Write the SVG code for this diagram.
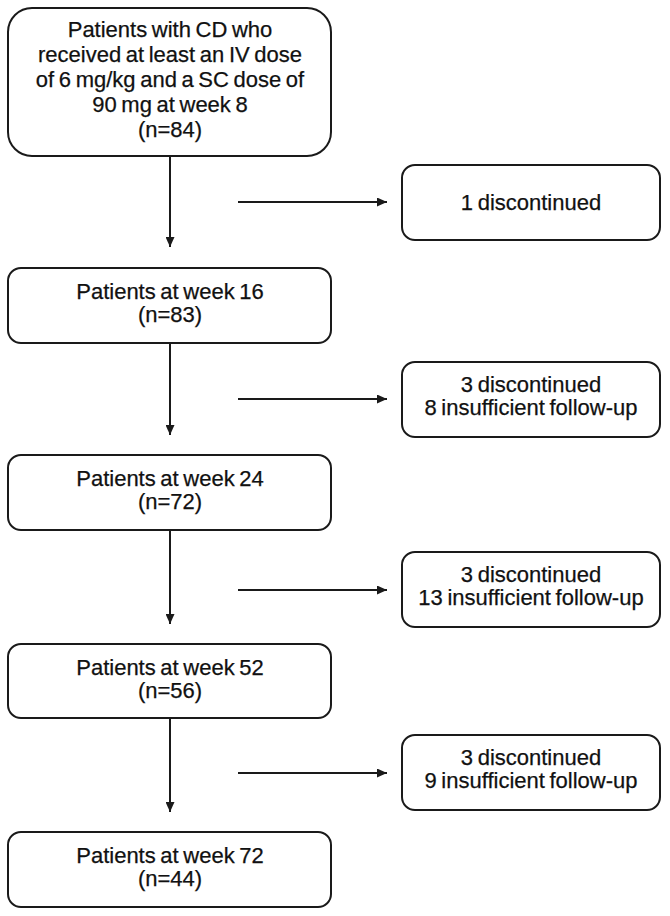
<svg xmlns="http://www.w3.org/2000/svg" width="670" height="916" viewBox="0 0 670 916">
<style>
.box{fill:#fff;stroke:#1a1a1a;stroke-width:2}
.t{font-family:"Liberation Sans",Arial,sans-serif;font-size:22px;word-spacing:-1.5px;fill:#111;stroke:#111;stroke-width:0.25;text-anchor:middle}
.c{stroke:#1a1a1a;stroke-width:2;fill:none;marker-end:url(#ah)}
</style>
<defs>
<marker id="ah" viewBox="0 0 10 10" refX="10" refY="5" markerWidth="5" markerHeight="4.5" orient="auto" markerUnits="strokeWidth" preserveAspectRatio="none">
<path d="M0,0 L10,5 L0,10 z" fill="#1a1a1a"/>
</marker>
</defs>
<rect width="670" height="916" fill="#fff"/>
<g id="connectors">
<line class="c" x1="170" y1="156" x2="170" y2="247"/>
<line class="c" x1="238" y1="202" x2="387" y2="202"/>
<line class="c" x1="170" y1="343" x2="170" y2="435"/>
<line class="c" x1="238" y1="399" x2="387" y2="399"/>
<line class="c" x1="170" y1="530" x2="170" y2="624"/>
<line class="c" x1="238" y1="590" x2="387" y2="590"/>
<line class="c" x1="170" y1="718" x2="170" y2="812"/>
<line class="c" x1="238" y1="773" x2="387" y2="773"/>
</g>
<g id="n1">
<rect class="box" x="8" y="8" width="323" height="148" rx="24"/>
<text class="t" x="170" y="37">Patients with CD who</text>
<text class="t" x="170" y="62">received at least an IV dose</text>
<text class="t" x="170" y="87">of 6 mg/kg and a SC dose of</text>
<text class="t" x="170" y="112">90 mg at week 8</text>
<text class="t" x="170" y="137">(n=84)</text>
</g>
<g id="d1">
<rect class="box" x="402" y="165" width="258" height="75" rx="13"/>
<text class="t" x="531" y="210">1 discontinued</text>
</g>
<g id="n2">
<rect class="box" x="8" y="268" width="323" height="75" rx="13"/>
<text class="t" x="170" y="299">Patients at week 16</text>
<text class="t" x="170" y="322">(n=83)</text>
</g>
<g id="d2">
<rect class="box" x="402" y="362" width="258" height="75" rx="13"/>
<text class="t" x="531" y="392">3 discontinued</text>
<text class="t" x="531" y="415">8 insufficient follow-up</text>
</g>
<g id="n3">
<rect class="box" x="8" y="455" width="323" height="75" rx="13"/>
<text class="t" x="170" y="486">Patients at week 24</text>
<text class="t" x="170" y="509">(n=72)</text>
</g>
<g id="d3">
<rect class="box" x="402" y="552" width="258" height="75" rx="13"/>
<text class="t" x="531" y="582">3 discontinued</text>
<text class="t" x="531" y="605">13 insufficient follow-up</text>
</g>
<g id="n4">
<rect class="box" x="8" y="644" width="323" height="74" rx="13"/>
<text class="t" x="170" y="675">Patients at week 52</text>
<text class="t" x="170" y="698">(n=56)</text>
</g>
<g id="d4">
<rect class="box" x="402" y="735" width="258" height="75" rx="13"/>
<text class="t" x="531" y="765">3 discontinued</text>
<text class="t" x="531" y="788">9 insufficient follow-up</text>
</g>
<g id="n5">
<rect class="box" x="8" y="832" width="323" height="75" rx="13"/>
<text class="t" x="170" y="863">Patients at week 72</text>
<text class="t" x="170" y="886">(n=44)</text>
</g>
</svg>
